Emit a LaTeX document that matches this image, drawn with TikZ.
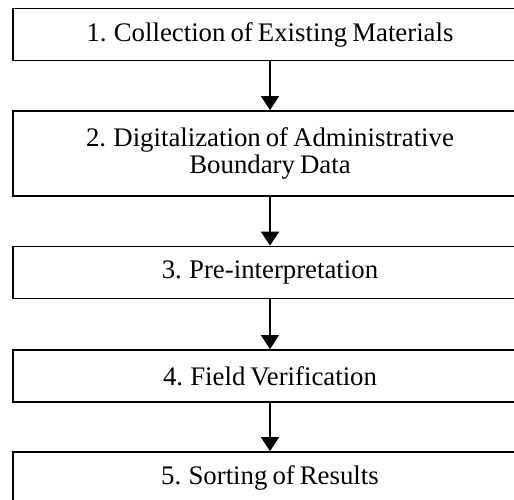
\documentclass[tikz,border=0pt]{standalone}
\usepackage{fontspec}
\setmainfont[WordSpace = 0.75]{Liberation Serif}
\usetikzlibrary{arrows.meta}

\begin{document}
\begin{tikzpicture}[x = 0.5pt, y = -0.5pt,
	stage/.style = {draw, line width = 0.9pt, minimum width = 257pt, minimum height = 26pt,
		inner sep = 0pt, align = center, font = \fontsize{13.4}{13.8}\selectfont},
	flow/.style = {line width = 0.9pt, -{Triangle[width = 9pt, length = 7pt]}}]
		\useasboundingbox (0, 0) rectangle (514, 499);
		%%%%%%%%%%%%%
		\node[stage] (s1) at (270, 34.5) {1. Collection of Existing Materials};
		\node[stage, minimum height = 42.5pt] (s2) at (270, 153.5) {2. Digitalization of Administrative\\Boundary Data};
		\node[stage] (s3) at (270, 272.5) {3. Pre-interpretation};
		\node[stage] (s4) at (270, 376) {4. Field Verification};
		\node[stage] (s5) at (270, 478) {5. Sorting of Results};
		%%%%%%%%%%%%%
		\draw[flow] (s1) to (s2); \draw[flow] (s2) to (s3);
		\draw[flow] (s3) to (s4); \draw[flow] (s4) to (s5);
\end{tikzpicture}
\end{document}
